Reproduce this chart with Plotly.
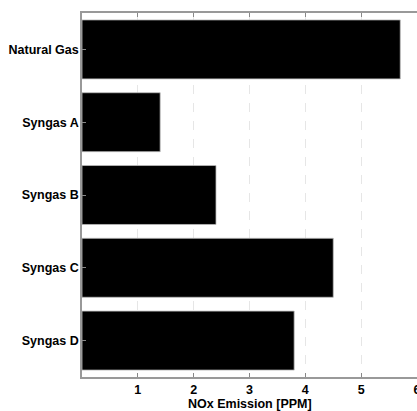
import plotly.graph_objects as go

categories = ["Natural Gas", "Syngas A", "Syngas B", "Syngas C", "Syngas D"]
nox_ppm = [5.7, 1.4, 2.4, 4.5, 3.8]
x_ticks = [1, 2, 3, 4, 5, 6]
x_title = "NOx Emission [PPM]"

fig = go.Figure(go.Bar(
    x=nox_ppm, y=categories, orientation="h",
    marker=dict(color="black", line=dict(color="#bbbbbb", width=0.8)),
))

font = dict(family="Liberation Sans, Arial, sans-serif", size=12.5, color="black", weight="bold")

fig.update_layout(
    width=417, height=411,
    margin=dict(l=82, r=0, t=13, b=34, autoexpand=False),
    paper_bgcolor="white", plot_bgcolor="white",
    bargap=0.19, showlegend=False,
    xaxis=dict(
        range=[0, 6], tickvals=x_ticks, ticks="inside", ticklen=4, tickcolor="#888888",
        showline=True, linecolor="#999999", linewidth=1.5, mirror="ticks",
        showgrid=True, gridcolor="#e6e6e6", griddash="dash", gridwidth=1,
        zeroline=False, tickfont=font, automargin=False, ticklabeloverflow="allow",
    ),
    yaxis=dict(
        autorange=False, range=[4.5, -0.5], categoryorder="array", categoryarray=categories,
        ticks="inside", ticklen=4, tickcolor="#888888",
        showline=True, linecolor="#999999", linewidth=1.5, mirror=False,
        showgrid=False, zeroline=False, tickfont=font, automargin=False,
        ticklabelstandoff=-1,
    ),
    yaxis2=dict(
        overlaying="y", side="right", anchor="x",
        autorange=False, range=[4.5, -0.5], tickvals=[0, 1, 2, 3, 4],
        ticks="inside", ticklen=4, tickcolor="#888888", showticklabels=False,
        showline=False, showgrid=False, zeroline=False,
    ),
    annotations=[dict(
        text=x_title, xref="paper", yref="paper", x=0.5, y=-0.0742,
        xanchor="center", yanchor="middle", showarrow=False, font=font,
    )],
)

fig.write_html("out.html")
